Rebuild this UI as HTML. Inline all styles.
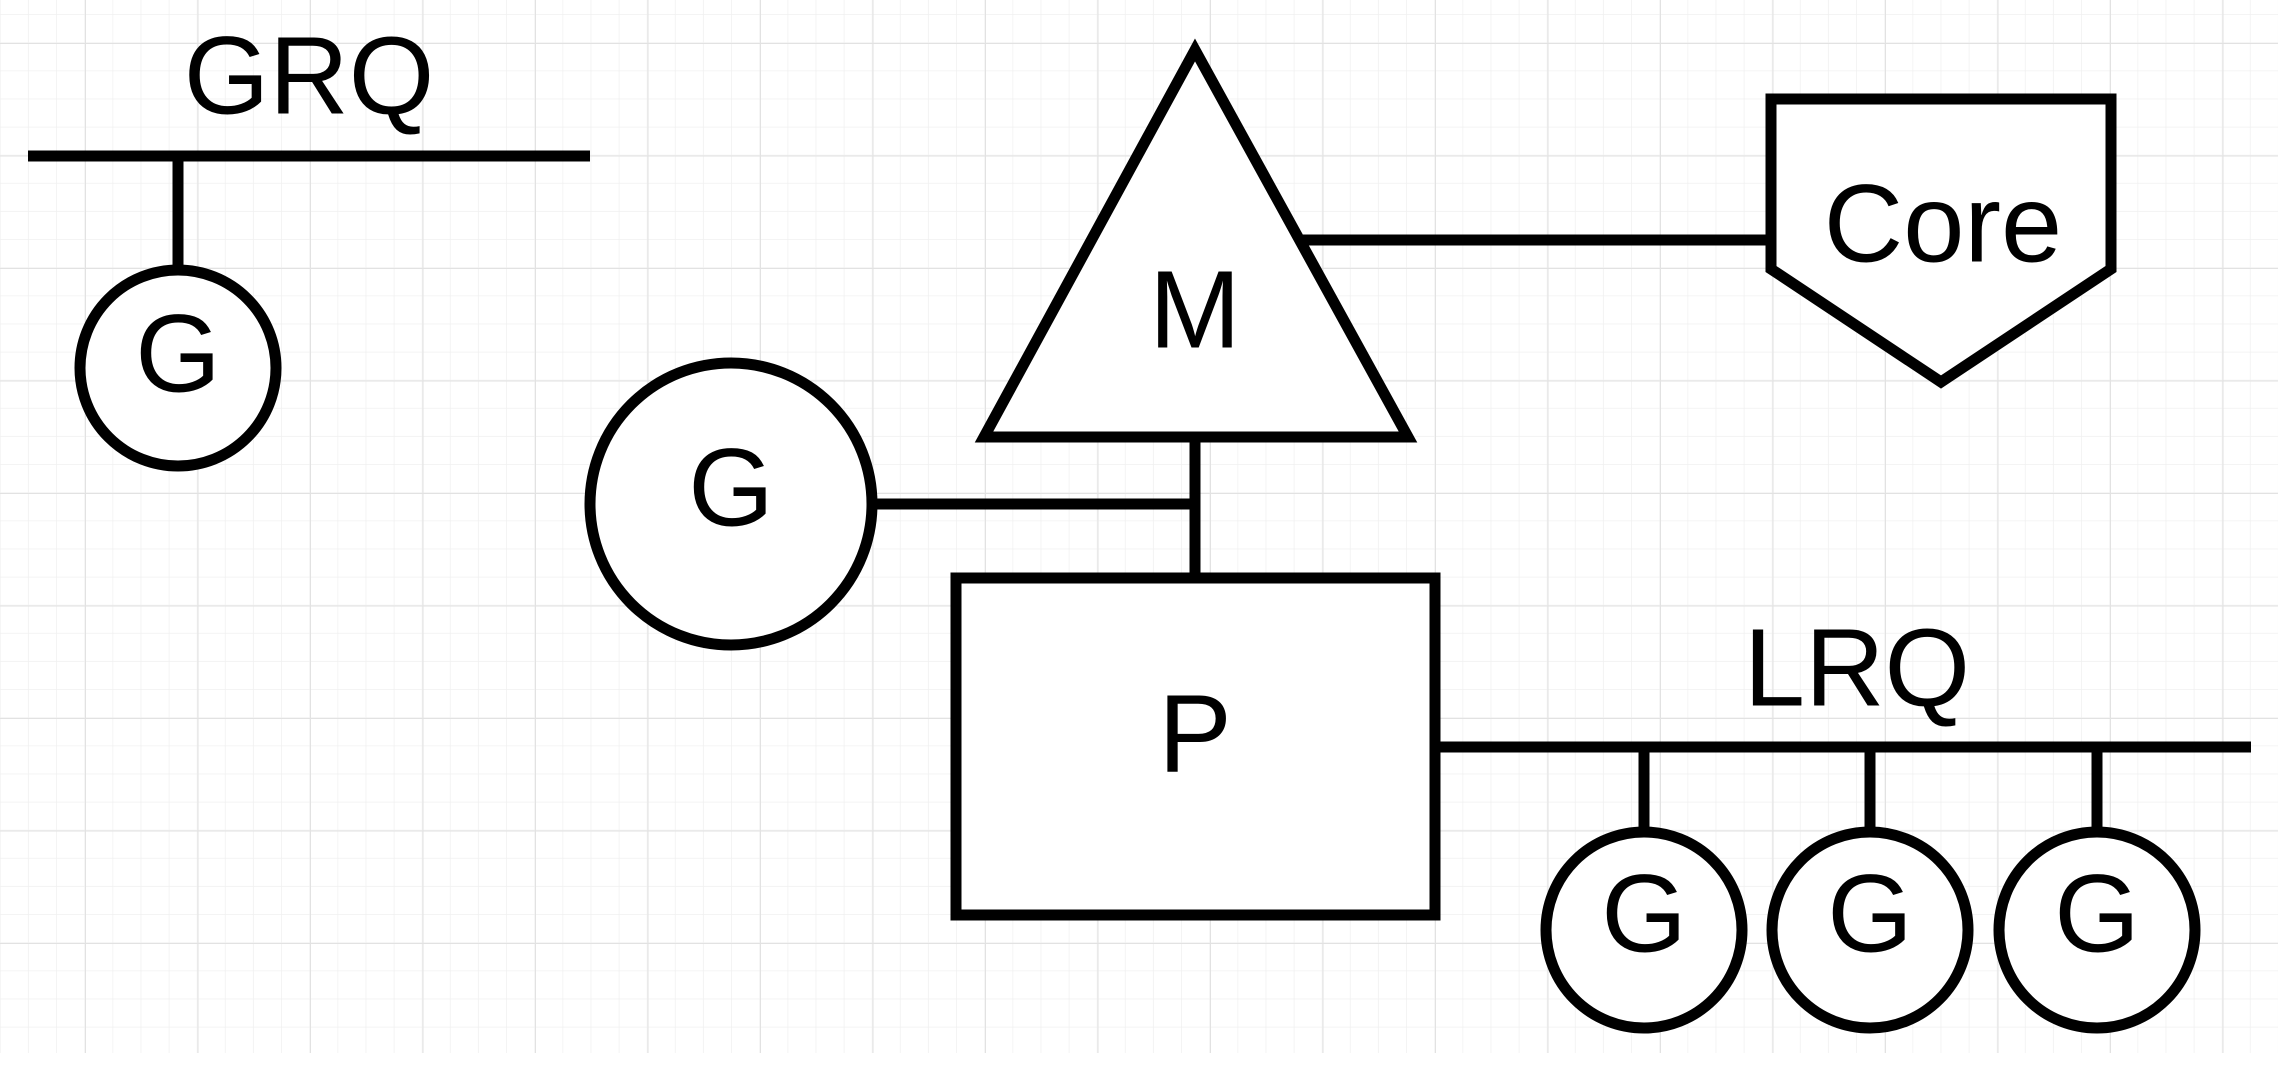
<!DOCTYPE html>
<html><head><meta charset="utf-8"><style>
html,body{margin:0;padding:0;background:#fff;}
svg{display:block}
text{font-family:"Liberation Sans",sans-serif;fill:#000;text-anchor:middle;dominant-baseline:central}
</style></head><body>
<svg width="2278" height="1066" viewBox="0 0 2278 1066">
<defs>
<pattern id="minor" width="28.125" height="28.125" patternUnits="userSpaceOnUse" x="0.75" y="15">
<path d="M28.125 0V28.125M0 28.125H28.125" stroke="#f0f0f0" stroke-width="1.5" fill="none"/>
</pattern>
<pattern id="major" width="112.5" height="112.5" patternUnits="userSpaceOnUse" x="85" y="43">
<path d="M0 0V112.5M0 0H112.5" stroke="#e2e2e2" stroke-width="2" fill="none"/>
</pattern>
</defs>
<rect width="2278" height="1053" fill="url(#minor)"/>
<rect width="2278" height="1053" fill="url(#major)"/>
<g stroke="#000" stroke-width="11" fill="#fff">
<line x1="28" y1="156" x2="590" y2="156"/>
<line x1="178" y1="156" x2="178" y2="270"/>
<circle cx="178" cy="368" r="98"/>
<line x1="1303" y1="240" x2="1771" y2="240"/>
<polygon points="1195,50 984,437 1408,437"/>
<polygon points="1771,99 2111,99 2111,269 1941,382 1771,269"/>
<line x1="1195" y1="437" x2="1195" y2="578"/>
<line x1="872" y1="504" x2="1195" y2="504"/>
<circle cx="731" cy="504" r="141"/>
<rect x="956" y="578" width="479" height="337"/>
<line x1="1435" y1="747" x2="2251" y2="747"/>
<line x1="1644" y1="747" x2="1644" y2="832"/>
<line x1="1870" y1="747" x2="1870" y2="832"/>
<line x1="2097" y1="747" x2="2097" y2="832"/>
<circle cx="1644" cy="930" r="98"/>
<circle cx="1870" cy="930" r="98"/>
<circle cx="2097" cy="930" r="98"/>
</g>
<text x="309" y="76" font-size="110">GRQ</text>
<text x="178" y="354" font-size="110">G</text>
<text x="1195" y="310" font-size="110">M</text>
<text x="1943" y="224" font-size="110">Core</text>
<text x="731" y="488" font-size="110">G</text>
<text x="1195" y="734" font-size="110">P</text>
<text x="1857" y="668" font-size="110">LRQ</text>
<text x="1644" y="914" font-size="110">G</text>
<text x="1870" y="914" font-size="110">G</text>
<text x="2097" y="914" font-size="110">G</text>
</svg>
</body></html>
